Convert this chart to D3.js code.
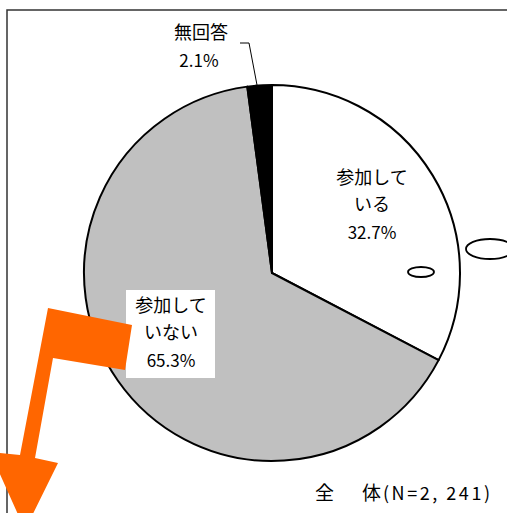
<!DOCTYPE html>
<html>
<head>
<meta charset="utf-8">
<script src="https://cdn.jsdelivr.net/npm/d3@7"></script>
<style>
  body { margin: 0; background: #fff; }
  svg { display: block; }
  text { font-family: "Noto Sans CJK JP", "Noto Sans", sans-serif; fill: #000; }
</style>
</head>
<body>
<svg width="507" height="513"></svg>
<script>
// slices, clockwise from 12 o'clock
var categories = ["参加している", "参加していない", "無回答"];
var values = [32.7, 65.3, 2.1];
var colors = ["#ffffff", "#c0c0c0", "#000000"];
var labelLines = [["参加して", "いる"], ["参加して", "いない"], ["無回答"]];
var title = "全　体";
var sampleNote = "(N=2, 241)";

var svg = d3.select("svg");

var cx = 272, cy = 273, radius = 188;

// frame (top and left edges)
svg.append("path")
    .attr("d", "M507,10 H7 V513")
    .attr("fill", "none")
    .attr("stroke", "#333")
    .attr("stroke-width", 1.5);

var data = categories.map(function (c, i) {
    return { name: c, value: values[i], color: colors[i], lines: labelLines[i] };
});

var pie = d3.pie()
    .sort(null)
    .value(function (d) { return d.value; });

var arc = d3.arc()
    .innerRadius(0)
    .outerRadius(radius);

var g = svg.append("g").attr("transform", "translate(" + cx + "," + cy + ")");

g.selectAll(".slice")
    .data(pie(data))
    .enter().append("path")
    .attr("class", "slice")
    .attr("d", arc)
    .attr("fill", function (d) { return d.data.color; })
    .attr("stroke", "#000")
    .attr("stroke-width", 2)
    .attr("stroke-linejoin", "round");

// label for "参加している"
var l1 = svg.append("text").attr("text-anchor", "middle").attr("font-size", 18);
l1.append("tspan").attr("x", 372).attr("y", 184).text(labelLines[0][0]);
l1.append("tspan").attr("x", 372).attr("y", 211).text(labelLines[0][1]);
l1.append("tspan").attr("x", 372).attr("y", 239).attr("font-size", 17).text(values[0].toFixed(1) + "%");

// label for "参加していない" on a white box
svg.append("rect")
    .attr("x", 126).attr("y", 290)
    .attr("width", 89).attr("height", 88)
    .attr("fill", "#fff");
var l2 = svg.append("text").attr("text-anchor", "middle").attr("font-size", 18);
l2.append("tspan").attr("x", 171).attr("y", 312).text(labelLines[1][0]);
l2.append("tspan").attr("x", 171).attr("y", 339).text(labelLines[1][1]);
l2.append("tspan").attr("x", 171).attr("y", 367).attr("font-size", 17).text(values[1].toFixed(1) + "%");

// label for "無回答" with leader line
var l3 = svg.append("text").attr("text-anchor", "middle").attr("font-size", 18);
l3.append("tspan").attr("x", 201).attr("y", 39).text(labelLines[2][0]);
l3.append("tspan").attr("x", 199).attr("y", 67).attr("font-size", 17).text(values[2].toFixed(1) + "%");
svg.append("path")
    .attr("d", "M240,43 H249 L257,85")
    .attr("fill", "none")
    .attr("stroke", "#000")
    .attr("stroke-width", 1);

// stray ellipses
svg.append("ellipse")
    .attr("cx", 490).attr("cy", 249).attr("rx", 24).attr("ry", 10)
    .attr("fill", "#fff").attr("stroke", "#000").attr("stroke-width", 1.8);
svg.append("ellipse")
    .attr("cx", 421).attr("cy", 272).attr("rx", 13).attr("ry", 5)
    .attr("fill", "#fff").attr("stroke", "#000").attr("stroke-width", 1.8);

// orange arrow
svg.append("path")
    .attr("d", "M48,308 L132,325 L125,370 L53,358 L35,458 L58,463 L25,530 L-10,452 L20,455 Z")
    .attr("fill", "#ff6600");

// title
var t = svg.append("text").attr("font-size", 19).attr("y", 500);
t.append("tspan").attr("x", 315).text(title.charAt(0));
t.append("tspan").attr("x", 362).text(title.charAt(2));
t.append("tspan").attr("x", 383).attr("font-size", 18).attr("textLength", 107).text(sampleNote);
</script>
</body>
</html>
